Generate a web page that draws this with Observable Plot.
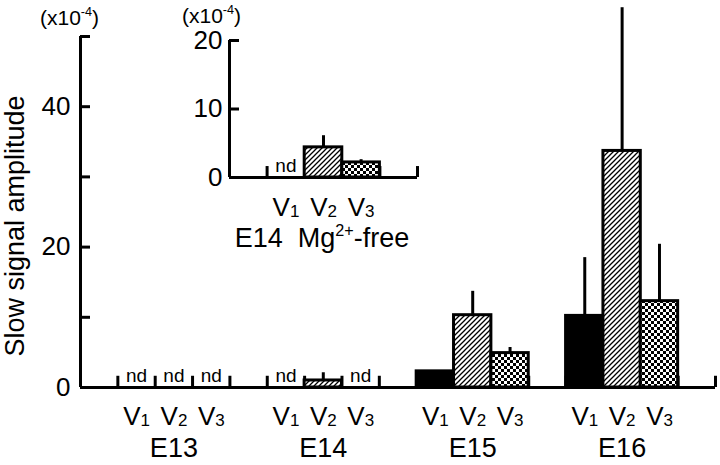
<!DOCTYPE html>
<html>
<head>
<meta charset="utf-8">
<script src="https://cdn.jsdelivr.net/npm/d3@7"></script>
<script src="https://cdn.jsdelivr.net/npm/@observablehq/plot@0.6"></script>
<style>
  html, body { margin: 0; padding: 0; background: white; }
  #wrap { position: relative; width: 720px; height: 465px; font-family: "Liberation Sans", Arial, sans-serif; color: black; }
  #wrap svg { position: absolute; overflow: visible; }
  .lbl { position: absolute; white-space: nowrap; line-height: 1; }
  .lbl sup { font-size: 0.6em; vertical-align: 0.7em; line-height: 0; }
</style>
</head>
<body>
<div id="wrap"></div>
<script>
// ---- data (x10^-4) ----
const groups = ["E13", "E14", "E15", "E16"];
const subs = ["1", "2", "3"];               // V1, V2, V3
const meanV1 = [null, null, 2.3, 10.2];
const meanV2 = [null, 1.0, 10.3, 33.7];
const meanV3 = [null, null, 4.9, 12.3];
const upperV1 = [null, null, null, 18.5];
const upperV2 = [null, 2.1, 13.7, 54.1];
const upperV3 = [null, null, 5.7, 20.4];
// inset: E14 Mg2+-free
const insetMean = [null, 4.4, 2.2];
const insetUpper = [null, 6.1, 2.6];
const yTicks = [0, 10, 20, 30, 40, 50];
const yTickLabels = [0, 20, 40];
const insetTicks = [0, 10, 20];
const yTitle = "Slow signal amplitude";
const ndText = "nd";
const ndHeight = 1.6;

const fills = ["black", "url(#hatch)", "url(#checker)"];
const means = [meanV1, meanV2, meanV3];
const uppers = [upperV1, upperV2, upperV3];

// rows for main chart: slot layout, each group occupies 4 slots (3 bars + gap)
const rows = [];
groups.forEach((g, gi) => subs.forEach((s, si) => {
  const x1 = gi * 4 + 1 + si;
  rows.push({g, s, si, x1, x2: x1 + 1, mid: x1 + 0.5, mean: means[si][gi], upper: uppers[si][gi]});
}));
const xMax = groups.length * 4 + 1;
const boundaries = [];
groups.forEach((g, gi) => { for (let k = 0; k < 4; k++) boundaries.push(gi * 4 + 1 + k); });
boundaries.push(xMax);

const insetRows = subs.map((s, si) => ({s, si, x1: 1 + si, x2: 2 + si, mid: 1.5 + si, mean: insetMean[si], upper: insetUpper[si]}));
const insetBounds = [1, 2, 3, 4, 5];

const font = "Liberation Sans, Arial, sans-serif";

function barMarks(data, bounds) {
  return [
    Plot.ruleX(bounds, {x: d => d, y1: 0, y2: ndHeight, strokeWidth: 3}),
    ...[0, 1, 2].map(si => Plot.rectY(data.filter(d => d.si === si && d.mean != null),
      {x1: "x1", x2: "x2", y: "mean", fill: fills[si], stroke: "black", strokeWidth: 3})),
    Plot.ruleX(data.filter(d => d.upper != null), {x: "mid", y1: "mean", y2: "upper", strokeWidth: 3}),
    Plot.text(data.filter(d => d.mean == null), {x: "mid", y: 0, text: () => ndText, dy: -12, fontSize: 19})
  ];
}

const main = Plot.plot({
  width: 720, height: 465,
  marginLeft: 80, marginRight: 5, marginTop: 36, marginBottom: 78,
  x: {domain: [0, xMax], axis: null},
  y: {domain: [0, 50], axis: null},
  style: {fontFamily: font, color: "black", background: "transparent", overflow: "visible"},
  marks: [
    ...barMarks(rows, boundaries),
    Plot.text(rows, {x: "mid", y: 0, text: () => "V", dy: 29, dx: 4, textAnchor: "end", fontSize: 26}),
    Plot.text(rows, {x: "mid", y: 0, text: "s", dy: 33, dx: 4, textAnchor: "start", fontSize: 17}),
    Plot.text(groups, {x: (d, i) => i * 4 + 2.5, y: 0, text: d => d, dy: 61, fontSize: 27}),
    Plot.ruleX([0], {y1: 0, y2: 50, strokeWidth: 3}),
    Plot.ruleY([0], {x1: 0, x2: xMax, strokeWidth: 3}),
    Plot.axisY({ticks: yTicks, tickSize: -10, tickPadding: 20, strokeWidth: 3, fontSize: 26,
      tickFormat: d => yTickLabels.includes(d) ? String(d) : ""}),
    Plot.text([yTitle], {frameAnchor: "left", textAnchor: "middle", rotate: -90, dx: -65, dy: 14, fontSize: 27})
  ]
});

const defs = `
<defs>
  <pattern id="hatch" patternUnits="userSpaceOnUse" width="5" height="5">
    <rect width="5" height="5" fill="white"/>
    <path d="M-1,1 l2,-2 M0,5 l5,-5 M4,6 l2,-2" stroke="black" stroke-width="1.3"/>
  </pattern>
  <pattern id="checker" patternUnits="userSpaceOnUse" width="6" height="6">
    <rect width="6" height="6" fill="white"/>
    <rect width="3" height="3" fill="black"/>
    <rect x="3" y="3" width="3" height="3" fill="black"/>
  </pattern>
</defs>`;
main.insertAdjacentHTML("afterbegin", defs);
main.style.left = "0px"; main.style.top = "0px";

const inset = Plot.plot({
  width: 270, height: 260,
  marginLeft: 79, marginRight: 3, marginTop: 40, marginBottom: 83,
  x: {domain: [0, 5], axis: null},
  y: {domain: [0, 20], axis: null},
  style: {fontFamily: font, color: "black", background: "transparent", overflow: "visible"},
  marks: [
    ...barMarks(insetRows, insetBounds),
    Plot.text(insetRows, {x: "mid", y: 0, text: () => "V", dy: 30, dx: 4, textAnchor: "end", fontSize: 26}),
    Plot.text(insetRows, {x: "mid", y: 0, text: "s", dy: 34, dx: 4, textAnchor: "start", fontSize: 17}),
    Plot.ruleX([0], {y1: 0, y2: 20, strokeWidth: 3}),
    Plot.ruleY([0], {x1: 0, x2: 5, strokeWidth: 3}),
    Plot.axisY({ticks: insetTicks, tickSize: -10, tickPadding: 17, strokeWidth: 3, fontSize: 26})
  ]
});
inset.style.left = "150px"; inset.style.top = "0px";

const wrap = document.getElementById("wrap");
wrap.appendChild(main);
wrap.appendChild(inset);

function addLabel(html, left, top, size, center) {
  const el = document.createElement("div");
  el.className = "lbl";
  el.innerHTML = html;
  el.style.fontSize = size + "px";
  el.style.left = left + "px";
  el.style.top = top + "px";
  if (center) el.style.transform = "translateX(-50%)";
  wrap.appendChild(el);
}
addLabel("(x10<sup>-4</sup>)", 40, 7, 21);
addLabel("(x10<sup>-4</sup>)", 182, 5, 21);
addLabel("E14&nbsp; Mg<sup>2+</sup>-free", 322, 225, 27, true);
</script>
</body>
</html>
